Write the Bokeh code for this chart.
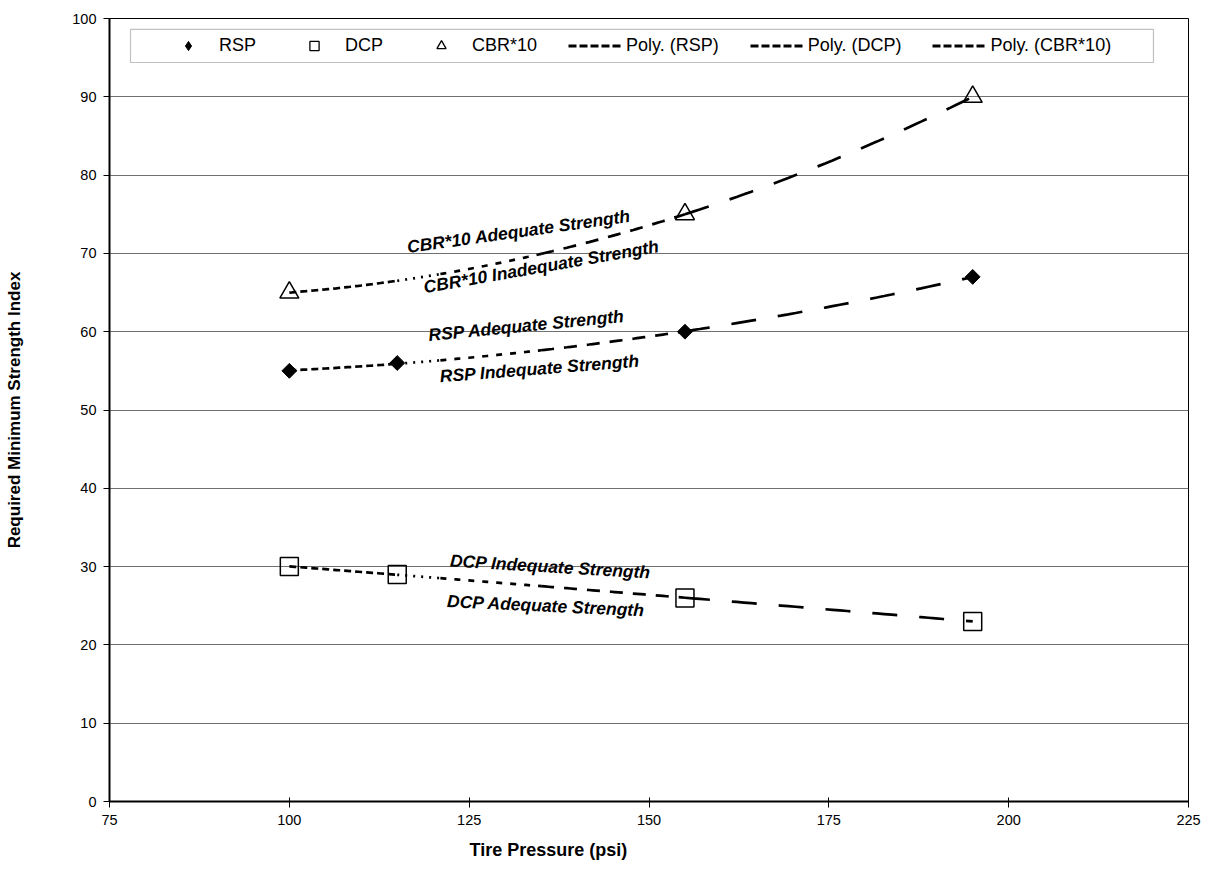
import numpy as np
from bokeh.plotting import figure
from bokeh.models import (Legend, LegendItem, FixedTicker, Title, BoxAnnotation, Range1d)
from bokeh.core.properties import value
from bokeh.embed import file_html
from bokeh.resources import INLINE

# ---------------- data ----------------
rsp_x = [100, 115, 155, 195]
rsp_y = [55, 56, 60, 67]
dcp_x = [100, 115, 155, 195]
dcp_y = [30, 29, 26, 23]
cbr_x = [100, 155, 195]
cbr_y = [65, 75, 90]

x_ticks = [75, 100, 125, 150, 175, 200, 225]
y_ticks = [0, 10, 20, 30, 40, 50, 60, 70, 80, 90, 100]

legend_labels = ["RSP", "DCP", "CBR*10", "Poly. (RSP)", "Poly. (DCP)", "Poly. (CBR*10)"]

ann_text = ["CBR*10 Adequate Strength", "CBR*10 Inadequate Strength",
            "RSP Adequate Strength", "RSP Indequate Strength",
            "DCP Indequate Strength", "DCP Adequate Strength"]

# ---------------- layout / style constants ----------------
ann_x = [131.9, 135.0, 133.0, 134.8, 136.3, 135.7]
ann_y = [72.8, 68.3, 60.8, 55.3, 30.0, 25.0]
ann_angle_deg = [8.0, 10.0, 5.6, 4.5, -3.4, -2.7]

# trendline dash pattern pieces (x start, x end, dash)
TREND_SEGMENTS = [(100, 115, "7 4"), (115, 121, "2 6"), (121, 135, "6 8"),
                  (135, 155, "13 10"), (155, 195, "25 22")]

FONT = "Liberation Sans"

p = figure(frame_width=1079, frame_height=783,
           x_range=Range1d(75, 225), y_range=Range1d(0, 100),
           output_backend="svg", toolbar_location=None,
           min_border_left=109, min_border_right=15, min_border_top=18,
           min_border_bottom=75)
p.background_fill_color = "white"
p.border_fill_color = "white"
p.outline_line_color = "black"
p.outline_line_width = 1

# grid
p.xgrid.grid_line_color = None
p.ygrid.grid_line_color = "#707070"
p.ygrid.grid_line_width = 1.2
p.ygrid.ticker = FixedTicker(ticks=y_ticks)

# axes
p.xaxis.ticker = FixedTicker(ticks=x_ticks)
p.yaxis.ticker = FixedTicker(ticks=y_ticks)
for ax in (p.xaxis[0], p.yaxis[0]):
    ax.axis_line_width = 2
    ax.axis_line_color = "black"
    ax.major_tick_line_color = "black"
    ax.major_tick_line_width = 1
    ax.minor_tick_line_color = None
    ax.major_label_text_color = "black"
    ax.major_label_text_font = FONT
    ax.major_label_text_font_size = "14.5px"
p.xaxis.major_tick_in = 4
p.xaxis.major_tick_out = 6
p.xaxis.major_label_standoff = 7
p.yaxis.major_tick_in = 0
p.yaxis.major_tick_out = 6
p.yaxis.major_label_standoff = 7

p.yaxis.axis_label = "Required Minimum Strength Index"
p.yaxis.axis_label_text_font = FONT
p.yaxis.axis_label_text_font_style = "bold"
p.yaxis.axis_label_text_font_size = "17px"
p.yaxis.axis_label_text_color = "black"
p.yaxis.axis_label_standoff = 45

p.add_layout(Title(text="Tire Pressure (psi)", align="left", offset=360,
                   text_font=FONT, text_font_style="bold", text_font_size="18px",
                   text_color="black", standoff=20), "below")

# trendlines (2nd-order polynomial fits of each series, as in the source chart)
for xs_d, ys_d in ((rsp_x, rsp_y), (dcp_x, dcp_y), (cbr_x, cbr_y)):
    coeffs = np.polyfit(xs_d, ys_d, 2)
    for a, b, dash in TREND_SEGMENTS:
        xs = np.linspace(a, b, 40)
        p.line(xs, np.polyval(coeffs, xs), line_color="black", line_width=2.7,
               line_dash=dash)

# markers
p.scatter(rsp_x, rsp_y, marker="square", angle=np.pi / 4, size=10.5,
          fill_color="black", line_color="black")
p.scatter(dcp_x, dcp_y, marker="square", size=18, fill_alpha=0,
          line_color="black", line_width=1.5)
p.scatter(cbr_x, cbr_y, marker="triangle", size=19, fill_alpha=0,
          line_color="black", line_width=1.5)

# annotations
p.text(x=ann_x, y=ann_y, text=ann_text, angle=[np.deg2rad(a) for a in ann_angle_deg],
       text_font=value(FONT), text_font_style="bold italic", text_font_size="17.5px",
       text_align="center", text_baseline="middle", text_color="black")

# legend box
box = BoxAnnotation(left=77.92, right=220.13, top=98.6, bottom=94.38,
                    fill_color="white", fill_alpha=1, line_color="#333333",
                    line_width=1.2, level="glyph")
p.add_layout(box)

# legend proxy renderers (hidden in the plot, drawn only in the legend)
l_rsp = p.scatter(rsp_x, rsp_y, marker="diamond",
                  fill_color="black", line_color="black", visible=False)
l_dcp = p.scatter(dcp_x, dcp_y, marker="square", fill_alpha=0,
                  line_color="black", line_width=1.3, visible=False)
l_cbr = p.scatter(cbr_x, cbr_y, marker="triangle", fill_alpha=0,
                  line_color="black", line_width=1.3, visible=False)
l_p1 = p.line(rsp_x, rsp_y, line_color="black", line_width=3, line_dash="8 3",
              visible=False)
l_p2 = p.line(dcp_x, dcp_y, line_color="black", line_width=3, line_dash="8 3",
              visible=False)
l_p3 = p.line(cbr_x, cbr_y, line_color="black", line_width=3, line_dash="8 3",
              visible=False)

items = [LegendItem(label=lab, renderers=[r]) for lab, r in
         zip(legend_labels, [l_rsp, l_dcp, l_cbr, l_p1, l_p2, l_p3])]
legend = Legend(items=items, orientation="horizontal", location=(47, 739),
                margin=0, padding=5, spacing=31, glyph_width=54, glyph_height=23,
                label_standoff=4, label_text_font=FONT, label_text_font_size="18px",
                label_text_color="black", border_line_alpha=0,
                background_fill_alpha=0)
p.add_layout(legend)

open("out.html", "w").write(file_html(p, INLINE))
